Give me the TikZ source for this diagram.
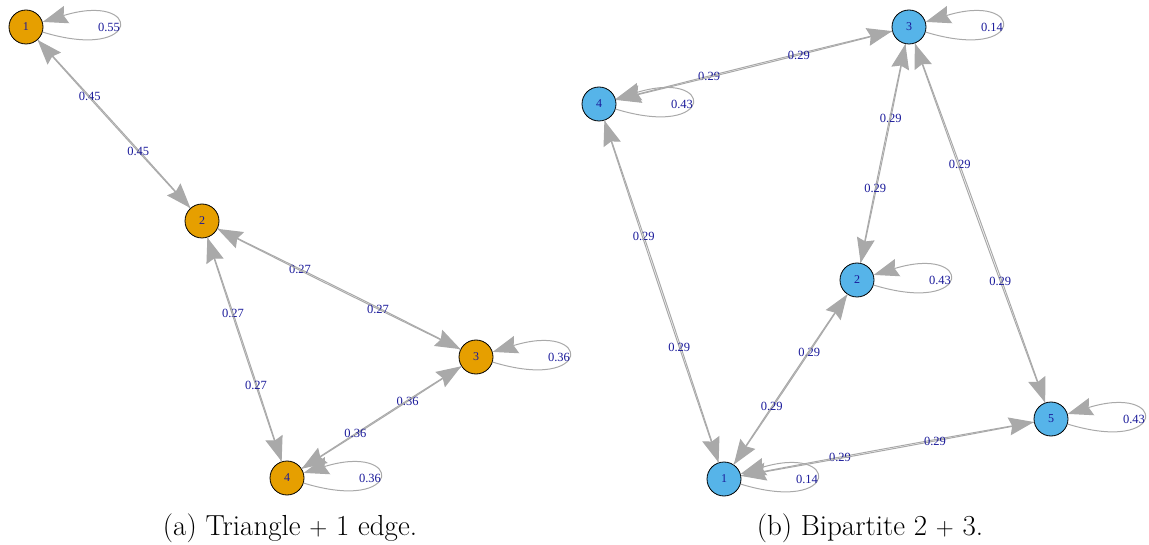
\documentclass[tikz,border=0pt]{standalone}
\usepackage{fontspec}
\newfontfamily\rfont{Liberation Serif}
\usepackage{tikz}
\usetikzlibrary{arrows.meta}
\definecolor{vorange}{HTML}{E69F00}
\definecolor{vblue}{HTML}{56B4E9}
\definecolor{egray}{HTML}{A9A9A9}
\definecolor{dblue}{HTML}{1A1A9A}

\begin{document}
\begin{tikzpicture}[x=1pt,y=-1pt,
	vtx/.style={circle,draw=black,line width=0.8pt,minimum size=34pt,inner sep=0pt,text=dblue,font=\rfont\fontsize{12}{12}\selectfont},
	edg/.style={draw=egray,line width=1pt,-{Stealth[length=25pt,width=18pt,inset=3pt]}},
	lbl/.style={text=dblue,inner sep=0pt,font=\rfont\fontsize{12.5}{12.5}\selectfont},
	selfloop/.style={out=-17,in=17,distance=105pt}]
	\useasboundingbox (0,0) rectangle (1149,545);
	\node[vtx,fill=vorange] (a1) at (26,27) {1};
	\node[vtx,fill=vorange] (a2) at (202,221) {2};
	\node[vtx,fill=vorange] (a3) at (476,357) {3};
	\node[vtx,fill=vorange] (a4) at (287,478) {4};
	\draw[edg] (a1) to[bend left=0.4] node[lbl,pos=0.325] {0.45} (a2);
	\draw[edg] (a2) to[bend left=0.4] node[lbl,pos=0.325] {0.45} (a1);
	\draw[edg] (a2) to[bend left=0.4] node[lbl,pos=0.325] {0.27} (a3);
	\draw[edg] (a3) to[bend left=0.4] node[lbl,pos=0.325] {0.27} (a2);
	\draw[edg] (a2) to[bend left=0.4] node[lbl,pos=0.325] {0.27} (a4);
	\draw[edg] (a4) to[bend left=0.4] node[lbl,pos=0.325] {0.27} (a2);
	\draw[edg] (a3) to[bend left=0.4] node[lbl,pos=0.325] {0.36} (a4);
	\draw[edg] (a4) to[bend left=0.4] node[lbl,pos=0.325] {0.36} (a3);
	\draw[edg] (a1) to[selfloop] node[lbl,pos=0.5,xshift=-9pt] {0.55} (a1);
	\draw[edg] (a3) to[selfloop] node[lbl,pos=0.5,xshift=-9pt] {0.36} (a3);
	\draw[edg] (a4) to[selfloop] node[lbl,pos=0.5,xshift=-9pt] {0.36} (a4);
	\node[anchor=base,font=\fontsize{29}{34}\selectfont] (capa) at (290,535) {(a) Triangle $+$ 1 edge.};
	\node[vtx,fill=vblue] (b1) at (724,479) {1};
	\node[vtx,fill=vblue] (b2) at (857,280) {2};
	\node[vtx,fill=vblue] (b3) at (909,27) {3};
	\node[vtx,fill=vblue] (b4) at (599,104) {4};
	\node[vtx,fill=vblue] (b5) at (1051,419) {5};
	\draw[edg] (b4) to[bend left=0.4] node[lbl,pos=0.325] {0.29} (b3);
	\draw[edg] (b3) to[bend left=0.4] node[lbl,pos=0.325] {0.29} (b4);
	\draw[edg] (b3) to[bend left=0.4] node[lbl,pos=0.325] {0.29} (b2);
	\draw[edg] (b2) to[bend left=0.4] node[lbl,pos=0.325] {0.29} (b3);
	\draw[edg] (b3) to[bend left=0.4] node[lbl,pos=0.325] {0.29} (b5);
	\draw[edg] (b5) to[bend left=0.4] node[lbl,pos=0.325] {0.29} (b3);
	\draw[edg] (b4) to[bend left=0.4] node[lbl,pos=0.325] {0.29} (b1);
	\draw[edg] (b1) to[bend left=0.4] node[lbl,pos=0.325] {0.29} (b4);
	\draw[edg] (b2) to[bend left=0.4] node[lbl,pos=0.325] {0.29} (b1);
	\draw[edg] (b1) to[bend left=0.4] node[lbl,pos=0.325] {0.29} (b2);
	\draw[edg] (b1) to[bend left=0.4] node[lbl,pos=0.325] {0.29} (b5);
	\draw[edg] (b5) to[bend left=0.4] node[lbl,pos=0.325] {0.29} (b1);
	\draw[edg] (b1) to[selfloop] node[lbl,pos=0.5,xshift=-9pt] {0.14} (b1);
	\draw[edg] (b2) to[selfloop] node[lbl,pos=0.5,xshift=-9pt] {0.43} (b2);
	\draw[edg] (b3) to[selfloop] node[lbl,pos=0.5,xshift=-9pt] {0.14} (b3);
	\draw[edg] (b4) to[selfloop] node[lbl,pos=0.5,xshift=-9pt] {0.43} (b4);
	\draw[edg] (b5) to[selfloop] node[lbl,pos=0.5,xshift=-9pt] {0.43} (b5);
	\node[anchor=base,font=\fontsize{29}{34}\selectfont] (capb) at (870,535) {(b) Bipartite 2 $+$ 3.};
\end{tikzpicture}
\end{document}
